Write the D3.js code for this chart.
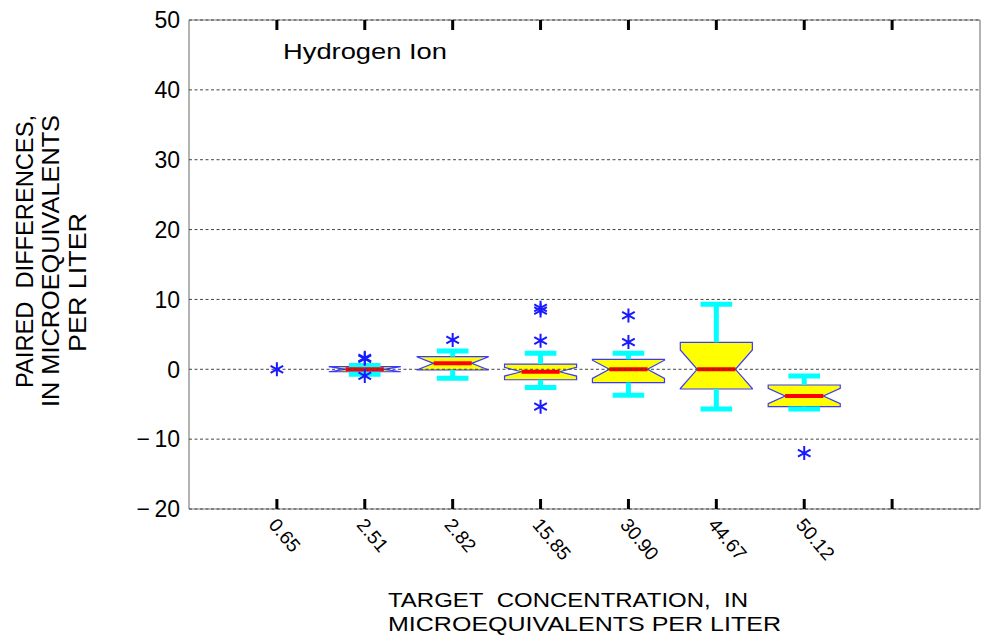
<!DOCTYPE html>
<html><head><meta charset="utf-8">
<script src="https://cdn.jsdelivr.net/npm/d3@7"></script>
<style>
body{margin:0;background:#fff;}
text{font-family:"Liberation Sans",Arial,Helvetica,sans-serif;fill:#000;}
</style>
</head><body>
<svg id="chart" width="981" height="635"></svg>
<script>
// ---- data ----
const categories = ["0.65","2.51","2.82","15.85","30.90","44.67","50.12"];
const medians    = [0,     0,     0.85,  -0.35,  0,     0,     -3.83];
const q1         = [null,  -0.35, -0.1,  -1.5,   -1.9,  -2.82, -5.35];
const q3         = [null,  0.37,  1.8,   0.75,   1.43,  3.86,  -2.25];
const notchHalf  = [null,  0.5,   1.0,   0.62,   1.3,   2.76,  1.1];
const whiskerLo  = [null,  -0.7,  -1.3,  -2.6,   -3.7,  -5.7,  -5.7];
const whiskerHi  = [null,  0.55,  2.6,   2.3,    2.3,   9.3,   -0.96];
const outliers   = [[0], [1.5, 1.65, -0.96], [4.2], [8.4, 8.8, 4.1, -5.35], [7.7, 3.9], [], [-12.0]];
const yTicks     = [-20, -10, 0, 10, 20, 30, 40, 50];
const xTickPos   = [1, 2, 3, 4, 5, 6, 7, 8];
const xTickLabels = categories.concat([""]);
const titleText  = "Hydrogen Ion";
const yTitle     = ["PAIRED\u00a0 DIFFERENCES,", "IN MICROEQUIVALENTS", "PER LITER"];
const xTitle     = ["TARGET\u00a0 CONCENTRATION,\u00a0 IN", "MICROEQUIVALENTS PER LITER"];

// ---- layout ----
const L = 189, R = 980, T = 20, B = 509;
const svg = d3.select("#chart");
const x = d3.scaleLinear().domain([0, 9]).range([L, R]);
const y = d3.scaleLinear().domain([-20, 50]).range([B, T]);
const step = x(1) - x(0);
const W = step * 0.41, inset = W * 0.47, capW = step * 0.18;

// frame
const frame = svg.append("g").attr("stroke", "#808080").attr("stroke-width", 1.2).attr("fill", "none");
frame.append("line").attr("x1", L).attr("x2", L).attr("y1", T).attr("y2", B);
frame.append("line").attr("x1", R).attr("x2", R).attr("y1", T).attr("y2", B);
frame.append("line").attr("x1", L).attr("x2", R).attr("y1", T).attr("y2", T);
frame.append("line").attr("x1", L).attr("x2", R).attr("y1", B).attr("y2", B);

// boxes
const data = categories.map((c, i) => ({
  i, c, med: medians[i], q1: q1[i], q3: q3[i], n: notchHalf[i],
  wlo: whiskerLo[i], whi: whiskerHi[i], out: outliers[i]
}));
const g = svg.append("g");
data.filter(d => d.q1 !== null).forEach(d => {
  const cx = x(d.i + 1);
  const nlo = Math.max(d.med - d.n, d.q1), nhi = Math.min(d.med + d.n, d.q3);
  const pts = [
    [cx - W, y(d.q1)], [cx - W, y(nlo)], [cx - W + inset, y(d.med)], [cx - W, y(nhi)], [cx - W, y(d.q3)],
    [cx + W, y(d.q3)], [cx + W, y(nhi)], [cx + W - inset, y(d.med)], [cx + W, y(nlo)], [cx + W, y(d.q1)]
  ];
  g.append("path").attr("d", d3.line()(pts) + "Z")
    .attr("fill", "#ffff00").attr("stroke", "#3a3aff").attr("stroke-width", 1.2);
  const wg = g.append("g").attr("stroke", "#00ffff").attr("stroke-width", 5);
  wg.append("line").attr("x1", cx).attr("x2", cx).attr("y1", y(d.q3)).attr("y2", y(d.whi));
  wg.append("line").attr("x1", cx).attr("x2", cx).attr("y1", y(d.q1)).attr("y2", y(d.wlo));
  wg.append("line").attr("x1", cx - capW).attr("x2", cx + capW).attr("y1", y(d.whi)).attr("y2", y(d.whi));
  wg.append("line").attr("x1", cx - capW).attr("x2", cx + capW).attr("y1", y(d.wlo)).attr("y2", y(d.wlo));
  g.append("line").attr("x1", cx - W + inset).attr("x2", cx + W - inset)
    .attr("y1", y(d.med)).attr("y2", y(d.med)).attr("stroke", "#ff0000").attr("stroke-width", 4);
});

// gridlines (on top)
svg.append("g").selectAll("line").data(yTicks).join("line")
  .attr("x1", L).attr("x2", R).attr("y1", d => y(d)).attr("y2", d => y(d))
  .attr("stroke", "#444").attr("stroke-width", 1).attr("stroke-dasharray", "3,2.5");

// outliers
const s = 7;
const star = `M0,${-s}L0,${s}M${-s*0.9},${-s*0.5}L${s*0.9},${s*0.5}M${-s*0.9},${s*0.5}L${s*0.9},${-s*0.5}`;
data.forEach(d => {
  svg.append("g").selectAll("path").data(d.out).join("path")
    .attr("transform", v => `translate(${x(d.i + 1)},${y(v)})`)
    .attr("d", star).attr("stroke", "#1a1aff").attr("stroke-width", 2).attr("fill", "none");
});

// x ticks (top and bottom, inward)
const tk = svg.append("g").attr("stroke", "#000").attr("stroke-width", 3);
xTickPos.forEach(p => {
  tk.append("line").attr("x1", x(p)).attr("x2", x(p)).attr("y1", T).attr("y2", T + 10);
  tk.append("line").attr("x1", x(p)).attr("x2", x(p)).attr("y1", B).attr("y2", B - 10);
});

// x tick labels (rotated)
svg.append("g").selectAll("text").data(xTickPos).join("text")
  .attr("transform", (p, i) => `translate(${x(p) - 4},${B + 12}) rotate(50)`)
  .attr("font-size", 19).attr("text-anchor", "start").attr("dy", "0.35em")
  .text((p, i) => xTickLabels[i]);

// y tick labels
svg.append("g").selectAll("text").data(yTicks).join("text")
  .attr("x", L - 9).attr("y", d => y(d)).attr("dy", "0.36em")
  .attr("text-anchor", "end").attr("font-size", 23)
  .text(d => d < 0 ? "\u2212\u2009" + Math.abs(d) : String(d));

// in-plot title
svg.append("text").attr("x", 283).attr("y", 58.5).attr("font-size", 22)
  .attr("textLength", 164).attr("lengthAdjust", "spacingAndGlyphs").text(titleText);

// y axis title
const yT = [{x: 33, y: 388, len: 273}, {x: 59, y: 407, len: 292}, {x: 86, y: 352, len: 139}];
yTitle.forEach((t, i) => {
  svg.append("text").attr("transform", `translate(${yT[i].x},${yT[i].y}) rotate(-90)`)
    .attr("font-size", 23).attr("textLength", yT[i].len).attr("lengthAdjust", "spacingAndGlyphs").text(t);
});

// x axis title
const xT = [{x: 388, y: 606.5, len: 360}, {x: 388, y: 630.5, len: 393}];
xTitle.forEach((t, i) => {
  svg.append("text").attr("x", xT[i].x).attr("y", xT[i].y)
    .attr("font-size", 21).attr("textLength", xT[i].len).attr("lengthAdjust", "spacingAndGlyphs").text(t);
});
</script>
</body></html>
